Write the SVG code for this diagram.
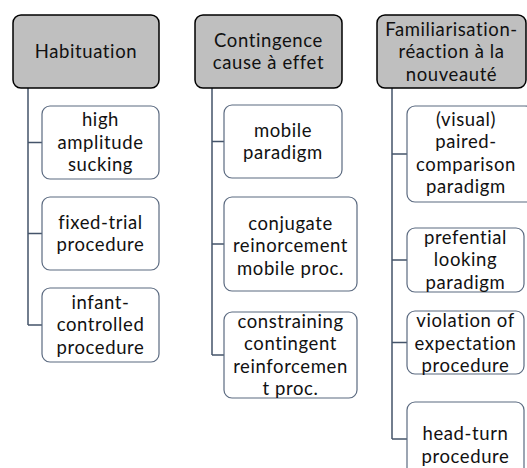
<svg xmlns="http://www.w3.org/2000/svg" width="527" height="468" viewBox="0 0 527 468">
  <style>
    .head { fill: #bfbfbf; stroke: #000000; stroke-width: 1.5; }
    .item { fill: #ffffff; stroke: #5b6a80; stroke-width: 1.2; }
    .link { fill: none; stroke: #44546a; stroke-width: 1.5; }
    text { font-family: Lato, "Open Sans", "Liberation Sans", sans-serif; font-size: 18.5px; letter-spacing: 0.6px; fill: #111111; text-anchor: middle; }
  </style>
  <rect width="527" height="468" fill="#ffffff"/>

  <!-- tree connectors -->
  <g id="connectors">
    <path class="link" d="M28 88 V325 M28 142.5 H42 M28 233.5 H42 M28 325 H42"/>
    <path class="link" d="M212 88 V355 M212 141.5 H224 M212 244 H224 M212 355 H224"/>
    <path class="link" d="M392 88 V439 M392 154 H407 M392 260 H407 M392 342.5 H407 M392 439 H407"/>
  </g>

  <!-- column 1 -->
  <g id="habituation">
    <rect class="head" x="13" y="15" width="146" height="73" rx="8"/>
    <text x="86" y="58">Habituation</text>
  </g>
  <g id="high-amplitude-sucking">
    <rect class="item" x="42" y="106" width="117" height="73" rx="8"/>
    <text x="100.5" y="126.3">high</text>
    <text x="100.5" y="148.8">amplitude</text>
    <text x="100.5" y="171.3">sucking</text>
  </g>
  <g id="fixed-trial">
    <rect class="item" x="42" y="197" width="117" height="73" rx="8"/>
    <text x="100.5" y="228.8">fixed-trial</text>
    <text x="100.5" y="251.3">procedure</text>
  </g>
  <g id="infant-controlled">
    <rect class="item" x="42" y="288" width="117" height="74" rx="8"/>
    <text x="100.5" y="308.8">infant-</text>
    <text x="100.5" y="331.3">controlled</text>
    <text x="100.5" y="353.8">procedure</text>
  </g>

  <!-- column 2 -->
  <g id="contingence">
    <rect class="head" x="195" y="15" width="147" height="73" rx="8"/>
    <text x="268.5" y="46.8">Contingence</text>
    <text x="268.5" y="69.3">cause à effet</text>
  </g>
  <g id="mobile-paradigm">
    <rect class="item" x="224" y="105" width="118" height="73" rx="8"/>
    <text x="283" y="136.8">mobile</text>
    <text x="283" y="159.3">paradigm</text>
  </g>
  <g id="conjugate-reinforcement">
    <rect class="item" x="224" y="197" width="133" height="94" rx="8"/>
    <text x="290.5" y="229.5">conjugate</text>
    <text x="290.5" y="252">reinorcement</text>
    <text x="290.5" y="274.5">mobile proc.</text>
  </g>
  <g id="constraining-contingent">
    <rect class="item" x="224" y="312" width="133" height="86" rx="8"/>
    <text x="290.5" y="327.6">constraining</text>
    <text x="290.5" y="350.1">contingent</text>
    <text x="290.5" y="372.6">reinforcemen</text>
    <text x="290.5" y="395.1">t proc.</text>
  </g>

  <!-- column 3 -->
  <g id="familiarisation">
    <rect class="head" x="377" y="15" width="149" height="73" rx="8"/>
    <text x="451.5" y="35.8">Familiarisation-</text>
    <text x="451.5" y="58.3">réaction à la</text>
    <text x="451.5" y="80.8">nouveauté</text>
  </g>
  <g id="paired-comparison">
    <rect class="item" x="407" y="106" width="126" height="96" rx="8"/>
    <text x="466" y="125.5">(visual)</text>
    <text x="466" y="148">paired-</text>
    <text x="466" y="170.5">comparison</text>
    <text x="466" y="193">paradigm</text>
  </g>
  <g id="preferential-looking">
    <rect class="item" x="407" y="228" width="117" height="64" rx="8"/>
    <text x="465.5" y="243.8">prefential</text>
    <text x="465.5" y="266.3">looking</text>
    <text x="465.5" y="288.8">paradigm</text>
  </g>
  <g id="violation-of-expectation">
    <rect class="item" x="407" y="311" width="117" height="63" rx="8"/>
    <text x="465.5" y="327">violation of</text>
    <text x="465.5" y="349.5">expectation</text>
    <text x="465.5" y="372">procedure</text>
  </g>
  <g id="head-turn">
    <rect class="item" x="407" y="402" width="117" height="74" rx="8"/>
    <text x="465.5" y="440">head-turn</text>
    <text x="465.5" y="462.5">procedure</text>
  </g>
</svg>
